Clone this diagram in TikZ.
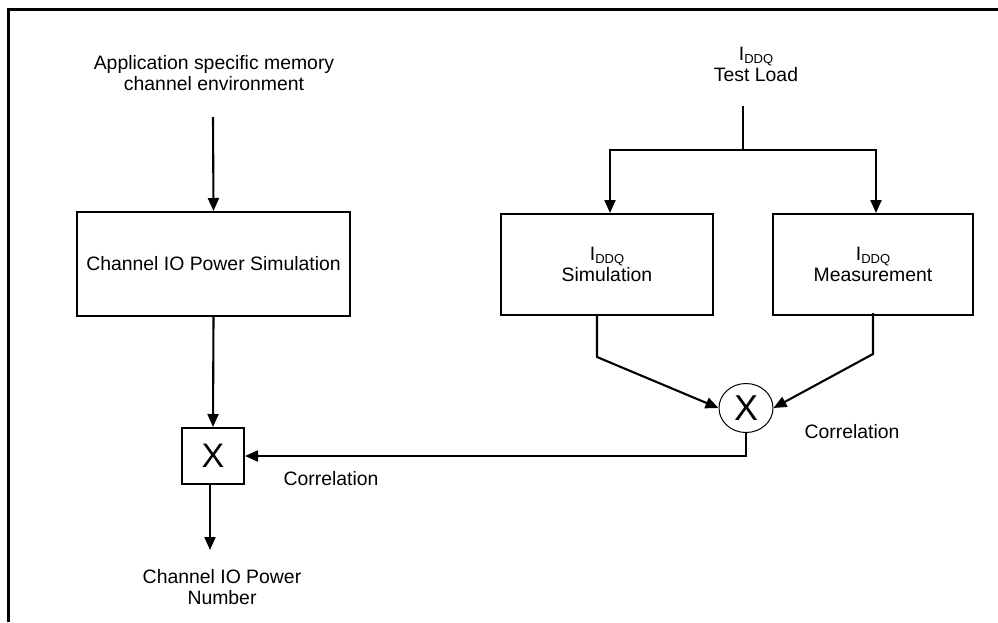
\documentclass[tikz,border=0pt]{standalone}
\usepackage{fontspec}
\setmainfont{Liberation Sans}
\usetikzlibrary{arrows.meta,shapes.geometric}
\newcommand{\iddq}{I\raisebox{-0.3ex}{\fontsize{13}{13}\selectfont DDQ}}
\begin{document}
\begin{tikzpicture}[x=1pt,y=-1pt,
  every node/.style={font=\fontsize{19.4}{21}\selectfont, align=center, inner sep=0pt},
  blk/.style={draw, line width=2pt, minimum width=#1},
  arr/.style={line width=2.1pt, -{Triangle[length=13pt,width=11pt]}},
  ln/.style={line width=2.1pt}]
\useasboundingbox (0,0) rectangle (998,622);
\fill[white] (0,0) rectangle (998,622);
\draw[line width=3pt] (8,622) -- (8,9) -- (998,9);
% nodes
\node (env) at (214,73) {Application specific memory\\channel environment};
\node[blk=273pt, minimum height=104pt] (chsim) at (213.5,264) {Channel IO Power Simulation};
\node[blk=62pt, minimum height=56pt, font=\fontsize{34}{34}\selectfont] (xbox) at (213,456) {X};
\node (out) at (222,587) {Channel IO Power\\Number};
\node (corl) at (331,479) {Correlation};
\node (load) at (756,64) {\iddq\\Test Load};
\node[blk=212pt, minimum height=101pt] (isim) at (607,264.5) {\iddq\\Simulation};
\node[blk=200pt, minimum height=101pt] (imeas) at (873,264.5) {\iddq\\Measurement};
\node[draw, ellipse, line width=1pt, minimum width=54pt, minimum height=49pt, font=\fontsize{36}{36}\selectfont] (corr) at (746,408) {X};
\node (corr2) at (852,432) {Correlation};
\coordinate (e1) at (213,117);
\coordinate (o1) at (210,550);
\coordinate (t1) at (743,106);
\coordinate (t2) at (743,150);
% connectors
\draw[arr] (e1) -- (chsim.north);
\draw[arr] (chsim.south) -- (xbox.north);
\draw[arr] (o1 |- xbox.south) -- (o1);
\draw[ln] (t1) -- (t2);
\draw[arr] (t2) -| ([xshift=3pt]isim.north);
\draw[arr] (t2) -| ([xshift=3pt]imeas.north);
\draw[arr] ([xshift=-10pt]isim.south) -- ++(0,41) -- (corr.west);
\draw[arr] ([yshift=3pt]imeas.south) -- ++(0,41) -- (corr.east);
\draw[arr] (corr.south) |- (xbox.east);
\end{tikzpicture}
\end{document}
